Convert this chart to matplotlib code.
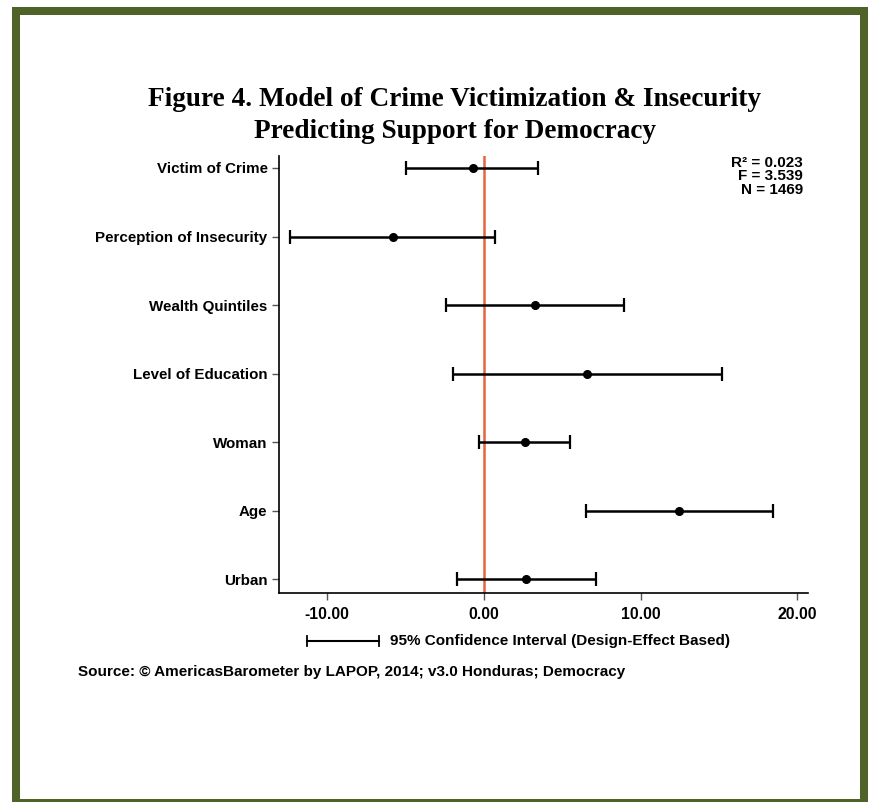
import matplotlib
matplotlib.use("Agg")
import matplotlib.pyplot as plt
from matplotlib.patches import Rectangle

categories = ["Victim of Crime", "Perception of Insecurity", "Wealth Quintiles",
              "Level of Education", "Woman", "Age", "Urban"]
coef = [-0.7, -5.78, 3.28, 6.57, 2.61, 12.45, 2.68]
ci_low = [-4.94, -12.3, -2.39, -1.96, -0.29, 6.53, -1.71]
ci_high = [3.5, 0.73, 8.97, 15.19, 5.5, 18.46, 7.14]
xticks = [-10, 0, 10, 20]
xticklabels = ["-10.00", "0.00", "10.00", "20.00"]
stats = ["R\u00b2 = 0.023", "F = 3.539", "N = 1469"]

W, H = 869, 802
fig = plt.figure(figsize=(W / 100, H / 100), dpi=100)
fig.patch.set_facecolor("white")

green = "#4f6228"
def frame_rect(x0, y0, x1, y1):
    fig.patches.append(Rectangle((x0 / W, 1 - y1 / H), (x1 - x0) / W, (y1 - y0) / H,
                                 transform=fig.transFigure, facecolor=green,
                                 edgecolor="none", zorder=0))
frame_rect(12, 7, 868, 15)      # top
frame_rect(12, 7, 20, 802)      # left
frame_rect(860, 7, 868, 802)    # right
frame_rect(12, 799, 868, 802)   # bottom

ax = fig.add_axes([278.7 / W, 1 - 593 / H, (808 - 278.7) / W, (593 - 156) / H])
n = len(categories)
ypos = list(range(n - 1, -1, -1))

xerr = [[c - lo for c, lo in zip(coef, ci_low)], [hi - c for c, hi in zip(coef, ci_high)]]
ax.axvline(0, color="#e8643c", lw=1.8, zorder=1)
ax.errorbar(coef, ypos, xerr=xerr, fmt="o", color="black", ecolor="black",
            elinewidth=1.8, capsize=5, capthick=1.6, markersize=5.5, zorder=3)

ax.set_xlim(-13.05, 20.67)
ax.set_ylim(-0.2, n - 1 + 0.175)
ax.set_yticks(ypos)
ax.set_yticklabels(categories)
ax.set_xticks(xticks)
ax.set_xticklabels(xticklabels)
for s in ["top", "right"]:
    ax.spines[s].set_visible(False)
for s in ["left", "bottom"]:
    ax.spines[s].set_linewidth(1.2)
ax.tick_params(axis="both", length=5, width=1, direction="out", color="#555555")
ax.tick_params(axis="y", pad=3)
ax.tick_params(axis="x", pad=5)
for lab in ax.get_yticklabels() + ax.get_xticklabels():
    lab.set_fontfamily("Liberation Sans")
    lab.set_fontweight("bold")
    lab.set_fontsize(10.9)
for lab in ax.get_xticklabels():
    lab.set_fontsize(11.3)

fig.text(803 / W, 1 - 156 / H, "\n".join(stats), ha="right", va="top",
         fontfamily="Liberation Sans", fontweight="bold", fontsize=11,
         linespacing=0.95, multialignment="right")

fig.text(455 / W, 1 - 100 / H, "Figure 4. Model of Crime Victimization & Insecurity",
         ha="center", va="center", fontfamily="Liberation Serif", fontweight="bold",
         fontsize=19.6)
fig.text(455 / W, 1 - 132 / H, "Predicting Support for Democracy",
         ha="center", va="center", fontfamily="Liberation Serif", fontweight="bold",
         fontsize=19.6)

# legend
fig.lines.append(plt.Line2D([307 / W, 379 / W], [1 - 641 / H, 1 - 641 / H],
                            transform=fig.transFigure, color="black", lw=1.5))
for xc in (307, 379):
    fig.lines.append(plt.Line2D([xc / W, xc / W], [1 - 636 / H, 1 - 646 / H],
                                transform=fig.transFigure, color="black", lw=1.3))
fig.text(390 / W, 1 - 641 / H, "95% Confidence Interval (Design-Effect Based)",
         ha="left", va="center", fontfamily="Liberation Sans", fontweight="bold",
         fontsize=11)

fig.text(78 / W, 1 - 672 / H,
         "Source: \u00a9 AmericasBarometer by LAPOP, 2014; v3.0 Honduras; Democracy",
         ha="left", va="center", fontfamily="Liberation Sans", fontweight="bold",
         fontsize=11)

fig.savefig("out.png", dpi=100, facecolor="white")
